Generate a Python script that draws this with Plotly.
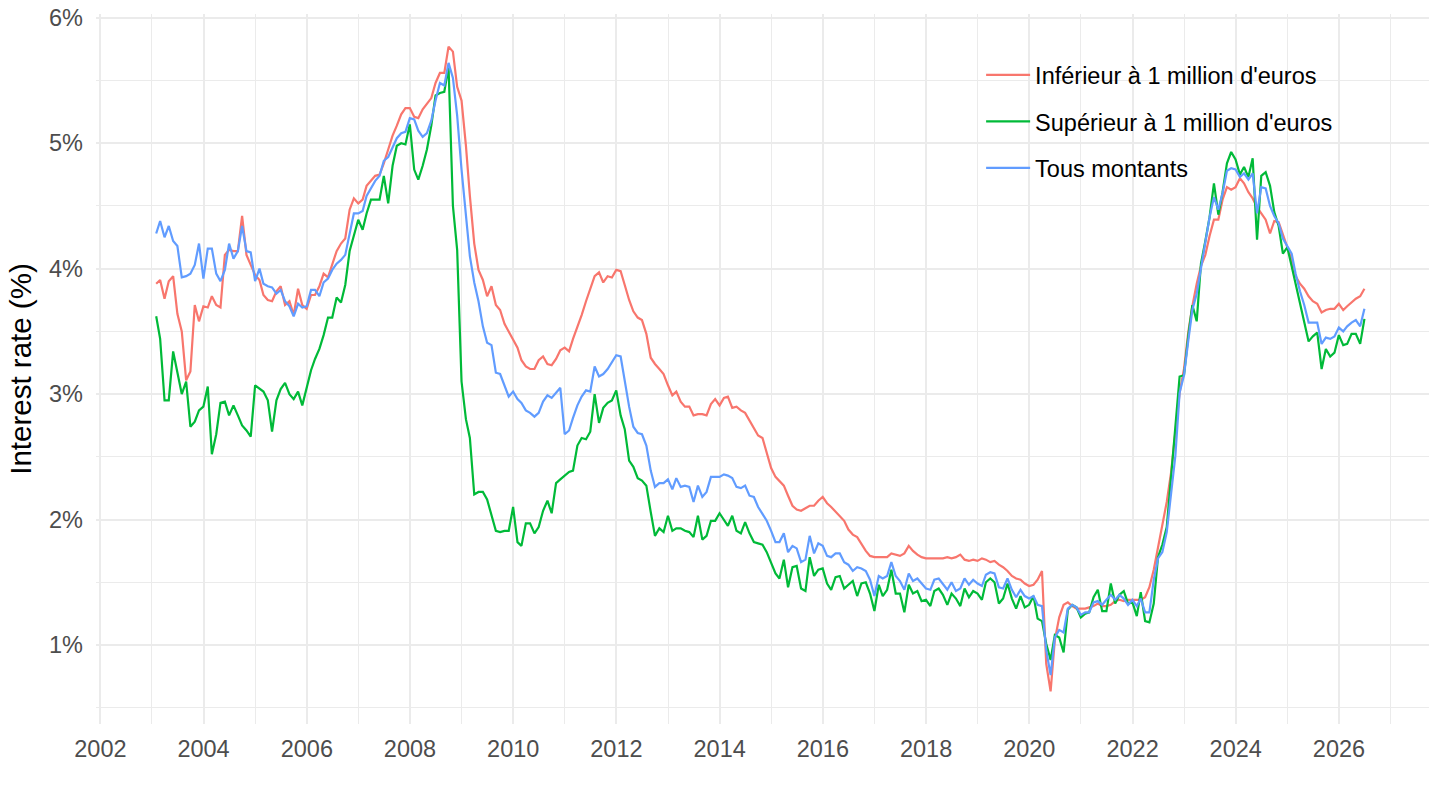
import pandas as pd
import plotly.graph_objects as go

# monthly rates (%), Jan 2003 -> Jun 2026, one row per year
dates = pd.date_range("2003-01-31", periods=282, freq="ME")

inferieur = [
    3.88, 3.91, 3.76, 3.90, 3.94, 3.64, 3.50, 3.11, 3.18, 3.71, 3.58, 3.70,  # 2003
    3.69, 3.78, 3.71, 3.69, 4.11, 4.15, 4.14, 4.14, 4.42, 4.11, 4.03, 3.95,  # 2004
    3.91, 3.79, 3.75, 3.74, 3.82, 3.86, 3.71, 3.74, 3.63, 3.84, 3.71, 3.68,  # 2005
    3.79, 3.79, 3.86, 3.96, 3.93, 4.04, 4.14, 4.20, 4.24, 4.47, 4.56, 4.52,  # 2006
    4.55, 4.66, 4.70, 4.74, 4.75, 4.84, 4.95, 5.06, 5.14, 5.23, 5.28, 5.28,  # 2007
    5.21, 5.20, 5.27, 5.31, 5.36, 5.48, 5.56, 5.56, 5.77, 5.73, 5.45, 5.34,  # 2008
    4.98, 4.58, 4.20, 3.99, 3.91, 3.78, 3.86, 3.71, 3.67, 3.56, 3.50, 3.44,  # 2009
    3.37, 3.27, 3.22, 3.20, 3.20, 3.27, 3.30, 3.24, 3.23, 3.28, 3.35, 3.37,  # 2010
    3.34, 3.44, 3.53, 3.63, 3.74, 3.84, 3.94, 3.97, 3.89, 3.94, 3.93, 3.99,  # 2011
    3.98, 3.87, 3.75, 3.66, 3.61, 3.59, 3.48, 3.29, 3.24, 3.20, 3.16, 3.07,  # 2012
    2.99, 3.02, 2.94, 2.90, 2.90, 2.83, 2.84, 2.84, 2.83, 2.92, 2.96, 2.91,  # 2013
    2.97, 2.98, 2.89, 2.90, 2.87, 2.85, 2.79, 2.74, 2.67, 2.65, 2.54, 2.41,  # 2014
    2.34, 2.31, 2.27, 2.19, 2.11, 2.08, 2.07, 2.09, 2.11, 2.11, 2.15, 2.18,  # 2015
    2.13, 2.10, 2.06, 2.03, 1.99, 1.92, 1.88, 1.86, 1.80, 1.75, 1.71, 1.70,  # 2016
    1.70, 1.70, 1.70, 1.73, 1.72, 1.71, 1.73, 1.79, 1.75, 1.72, 1.70, 1.69,  # 2017
    1.69, 1.69, 1.69, 1.69, 1.70, 1.69, 1.70, 1.72, 1.68, 1.67, 1.68, 1.67,  # 2018
    1.69, 1.68, 1.66, 1.67, 1.64, 1.62, 1.59, 1.55, 1.53, 1.52, 1.49, 1.47,  # 2019
    1.48, 1.52, 1.59, 0.85, 0.63, 1.04, 1.22, 1.32, 1.34, 1.31, 1.29, 1.29,  # 2020
    1.29, 1.30, 1.31, 1.33, 1.31, 1.31, 1.32, 1.35, 1.36, 1.35, 1.36, 1.36,  # 2021
    1.36, 1.36, 1.38, 1.46, 1.60, 1.77, 1.97, 2.14, 2.37, 2.70, 3.01, 3.20,  # 2022
    3.50, 3.70, 3.88, 4.02, 4.11, 4.26, 4.39, 4.39, 4.55, 4.65, 4.63, 4.65,  # 2023
    4.72, 4.68, 4.61, 4.56, 4.49, 4.44, 4.39, 4.28, 4.38, 4.37, 4.27, 4.17,  # 2024
    4.07, 3.94, 3.88, 3.84, 3.78, 3.74, 3.72, 3.65, 3.67, 3.68, 3.68, 3.72,  # 2025
    3.67, 3.70, 3.73, 3.76, 3.78, 3.84,                                      # 2026
]

superieur = [
    3.62, 3.44, 2.95, 2.95, 3.34, 3.17, 3.00, 3.10, 2.74, 2.78, 2.87, 2.90,  # 2003
    3.06, 2.52, 2.68, 2.93, 2.94, 2.83, 2.91, 2.83, 2.75, 2.71, 2.66, 3.07,  # 2004
    3.04, 3.02, 2.95, 2.70, 2.95, 3.04, 3.09, 3.00, 2.96, 3.02, 2.91, 3.04,  # 2005
    3.19, 3.28, 3.36, 3.47, 3.61, 3.61, 3.77, 3.73, 3.87, 4.14, 4.27, 4.39,  # 2006
    4.31, 4.44, 4.55, 4.55, 4.55, 4.74, 4.52, 4.82, 4.98, 5.00, 4.99, 5.15,  # 2007
    4.79, 4.71, 4.82, 4.95, 5.14, 5.38, 5.40, 5.41, 5.61, 4.50, 4.15, 3.10,  # 2008
    2.80, 2.65, 2.20, 2.22, 2.22, 2.16, 2.03, 1.91, 1.90, 1.91, 1.91, 2.10,  # 2009
    1.82, 1.79, 1.97, 1.97, 1.89, 1.94, 2.07, 2.15, 2.05, 2.29, 2.32, 2.35,  # 2010
    2.38, 2.39, 2.59, 2.65, 2.64, 2.70, 3.00, 2.77, 2.89, 2.93, 2.95, 3.03,  # 2011
    2.83, 2.72, 2.47, 2.42, 2.33, 2.31, 2.27, 2.06, 1.87, 1.93, 1.90, 2.03,  # 2012
    1.91, 1.93, 1.93, 1.91, 1.90, 1.86, 2.03, 1.84, 1.87, 1.99, 1.99, 2.05,  # 2013
    2.00, 1.95, 2.03, 1.91, 1.89, 1.98, 1.89, 1.82, 1.81, 1.80, 1.74, 1.65,  # 2014
    1.57, 1.53, 1.68, 1.46, 1.62, 1.63, 1.45, 1.43, 1.70, 1.55, 1.60, 1.61,  # 2015
    1.49, 1.44, 1.54, 1.55, 1.45, 1.48, 1.51, 1.39, 1.49, 1.50, 1.41, 1.27,  # 2016
    1.48, 1.39, 1.44, 1.60, 1.41, 1.41, 1.26, 1.48, 1.41, 1.43, 1.35, 1.36,  # 2017
    1.31, 1.43, 1.45, 1.40, 1.32, 1.41, 1.37, 1.31, 1.45, 1.38, 1.43, 1.41,  # 2018
    1.36, 1.50, 1.53, 1.50, 1.33, 1.37, 1.49, 1.37, 1.29, 1.39, 1.30, 1.32,  # 2019
    1.39, 1.21, 1.19, 1.01, 0.88, 1.08, 1.06, 0.94, 1.28, 1.32, 1.30, 1.22,  # 2020
    1.25, 1.26, 1.38, 1.44, 1.27, 1.27, 1.49, 1.33, 1.40, 1.43, 1.33, 1.34,  # 2021
    1.23, 1.42, 1.19, 1.18, 1.33, 1.70, 1.80, 1.94, 2.31, 2.74, 3.14, 3.15,  # 2022
    3.47, 3.71, 3.58, 4.04, 4.22, 4.41, 4.68, 4.43, 4.61, 4.84, 4.93, 4.87,  # 2023
    4.75, 4.81, 4.73, 4.88, 4.23, 4.74, 4.77, 4.66, 4.45, 4.34, 4.12, 4.17,  # 2024
    4.02, 3.88, 3.72, 3.56, 3.42, 3.46, 3.49, 3.20, 3.36, 3.30, 3.33, 3.47,  # 2025
    3.39, 3.40, 3.48, 3.48, 3.40, 3.60,                                      # 2026
]

tous = [
    4.28, 4.38, 4.25, 4.34, 4.22, 4.18, 3.93, 3.94, 3.96, 4.03, 4.20, 3.92,  # 2003
    4.16, 4.16, 3.96, 3.90, 3.99, 4.20, 4.08, 4.14, 4.34, 4.14, 4.13, 3.90,  # 2004
    4.00, 3.88, 3.86, 3.85, 3.80, 3.83, 3.74, 3.70, 3.62, 3.72, 3.69, 3.70,  # 2005
    3.83, 3.83, 3.78, 3.89, 3.92, 3.99, 4.04, 4.07, 4.11, 4.28, 4.44, 4.44,  # 2006
    4.46, 4.58, 4.64, 4.70, 4.74, 4.86, 4.89, 4.96, 5.04, 5.08, 5.09, 5.20,  # 2007
    5.19, 5.10, 5.05, 5.08, 5.18, 5.34, 5.48, 5.46, 5.64, 5.52, 5.22, 4.79,  # 2008
    4.42, 4.10, 3.89, 3.74, 3.54, 3.41, 3.39, 3.17, 3.16, 3.07, 2.98, 3.02,  # 2009
    2.96, 2.93, 2.87, 2.85, 2.82, 2.85, 2.94, 2.99, 2.97, 3.01, 3.05, 2.68,  # 2010
    2.71, 2.81, 2.91, 2.98, 3.03, 3.02, 3.22, 3.14, 3.16, 3.20, 3.25, 3.31,  # 2011
    3.30, 3.10, 2.90, 2.74, 2.69, 2.68, 2.59, 2.39, 2.26, 2.29, 2.29, 2.32,  # 2012
    2.24, 2.33, 2.26, 2.27, 2.26, 2.14, 2.27, 2.18, 2.22, 2.34, 2.34, 2.34,  # 2013
    2.36, 2.35, 2.33, 2.26, 2.25, 2.27, 2.19, 2.18, 2.10, 2.04, 1.99, 1.91,  # 2014
    1.82, 1.82, 1.89, 1.74, 1.79, 1.77, 1.66, 1.68, 1.87, 1.73, 1.81, 1.79,  # 2015
    1.71, 1.70, 1.73, 1.73, 1.66, 1.64, 1.59, 1.62, 1.61, 1.59, 1.52, 1.39,  # 2016
    1.55, 1.53, 1.55, 1.66, 1.55, 1.51, 1.44, 1.57, 1.51, 1.53, 1.49, 1.45,  # 2017
    1.44, 1.52, 1.53, 1.49, 1.44, 1.50, 1.43, 1.45, 1.53, 1.48, 1.52, 1.49,  # 2018
    1.47, 1.56, 1.58, 1.57, 1.46, 1.45, 1.53, 1.44, 1.38, 1.44, 1.39, 1.37,  # 2019
    1.39, 1.32, 1.31, 0.96, 0.76, 1.06, 1.12, 1.10, 1.29, 1.32, 1.30, 1.24,  # 2020
    1.26, 1.26, 1.34, 1.35, 1.32, 1.36, 1.40, 1.36, 1.40, 1.37, 1.32, 1.36,  # 2021
    1.31, 1.37, 1.26, 1.26, 1.52, 1.69, 1.74, 1.90, 2.21, 2.51, 3.01, 3.15,  # 2022
    3.43, 3.67, 3.80, 3.99, 4.20, 4.41, 4.57, 4.47, 4.60, 4.78, 4.80, 4.79,  # 2023
    4.73, 4.76, 4.71, 4.76, 4.44, 4.65, 4.64, 4.50, 4.42, 4.36, 4.24, 4.18,  # 2024
    4.12, 3.96, 3.82, 3.71, 3.57, 3.57, 3.57, 3.40, 3.45, 3.44, 3.46, 3.53,  # 2025
    3.50, 3.54, 3.57, 3.59, 3.54, 3.68,                                      # 2026
]

series = [
    ("Inférieur à 1 million d'euros", inferieur, "#F8766D"),
    ("Supérieur à 1 million d'euros", superieur, "#00BA38"),
    ("Tous montants", tous, "#619CFF"),
]

y_ticks = [1, 2, 3, 4, 5, 6]
y_labels = [f"{v}%" for v in y_ticks]

font_family = "Liberation Sans, Arial, sans-serif"
grid = "#EBEBEB"

fig = go.Figure()
for name, vals, color in series:
    fig.add_trace(
        go.Scatter(
            x=dates,
            y=vals,
            mode="lines",
            name=name,
            legendgroup=name,
            line=dict(color=color, width=2.2),
        )
    )

fig.update_layout(
    width=1440,
    height=810,
    margin=dict(l=96, r=11, t=14, b=86),
    paper_bgcolor="white",
    plot_bgcolor="white",
    font=dict(family=font_family, size=23.5, color="#4D4D4D"),
    showlegend=True,
    legend=dict(
        x=0.664,
        y=0.945,
        xanchor="left",
        yanchor="top",
        bgcolor="rgba(0,0,0,0)",
        font=dict(size=23.5, color="black"),
        tracegroupgap=13,
        itemwidth=44,
    ),
)
fig.update_xaxes(
    type="date",
    range=["2001-12-01", "2027-09-30"],
    tick0="2002-01-01",
    dtick="M24",
    tickformat="%Y",
    showgrid=True,
    gridcolor=grid,
    gridwidth=2,
    zeroline=False,
    showline=False,
    ticks="",
    automargin=False,
    ticklabelstandoff=8,
    tickfont=dict(size=23.5, color="#4D4D4D"),
    minor=dict(dtick="M12", tick0="2002-01-01", showgrid=True, gridcolor=grid, gridwidth=1),
)
fig.update_yaxes(
    range=[0.37, 6.03],
    tickmode="array",
    tickvals=y_ticks,
    ticktext=y_labels,
    showgrid=True,
    gridcolor=grid,
    gridwidth=2,
    zeroline=False,
    showline=False,
    ticks="",
    automargin=False,
    ticklabelstandoff=12,
    ticklabeloverflow="allow",
    tickfont=dict(size=23.5, color="#4D4D4D"),
    minor=dict(dtick=0.5, tick0=0, showgrid=True, gridcolor=grid, gridwidth=1),
    title=dict(text="Interest rate (%)", font=dict(size=29.5, color="black"), standoff=8),
)

# drop the browser's default body margin so the 1440x810 figure fills the window
fig.write_html(
    "out.html",
    config={"displayModeBar": False},
    post_script="document.body.style.margin = '0px';",
)
